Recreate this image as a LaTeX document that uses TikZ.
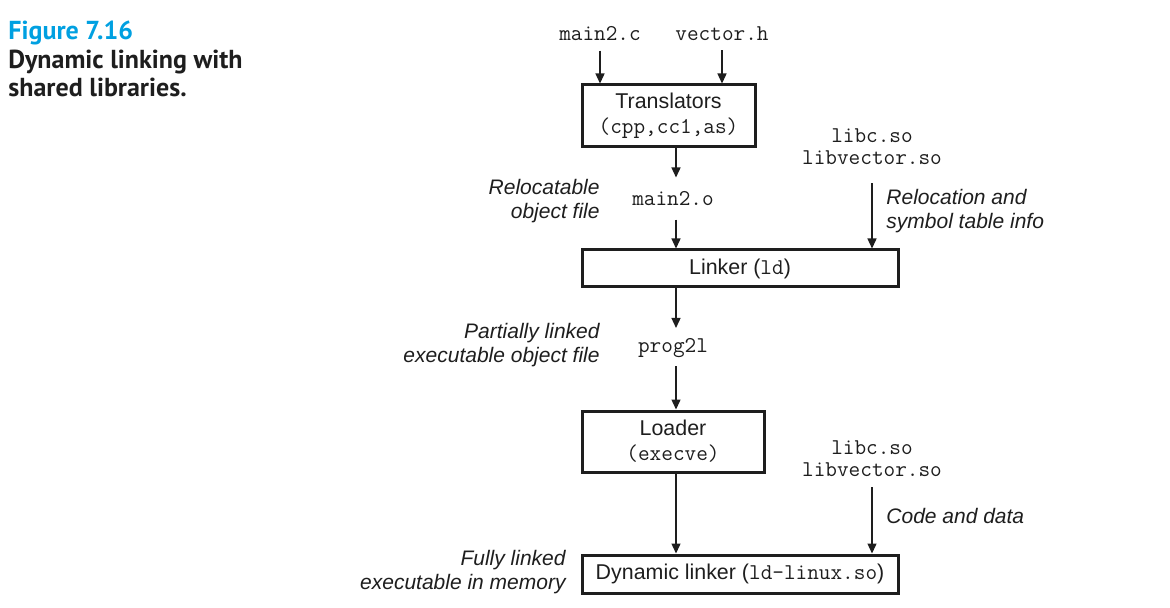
\documentclass[tikz,border=0pt]{standalone}
\usepackage{fontspec}
\setmainfont{Liberation Sans}
\newfontfamily\titlefont{PT Sans}
\usetikzlibrary{arrows.meta}
\definecolor{figcyan}{RGB}{0,160,225}
\definecolor{ink}{RGB}{30,30,30}
\newcommand{\cmono}[1]{{\fontsize{11.3}{11}\ttfamily #1}}
\tikzset{
  box/.style={draw=ink, line width=1.5pt, inner sep=0pt, align=center, font=\fontsize{10.7}{12.5}\selectfont, text=ink},
  mono/.style={inner sep=0pt, align=center, font=\fontsize{11.3}{11}\ttfamily, text=ink},
  note/.style={inner sep=0pt, font=\fontsize{10.5}{12}\selectfont\itshape, text=ink},
  captext/.style={anchor=base west, inner sep=0pt, font=\titlefont\bfseries\fontsize{13}{14}\selectfont, text=ink},
  arr/.style={draw=ink, line width=0.7pt, -{Triangle[length=5pt,width=4.5pt]}},
}
\begin{document}
\begin{tikzpicture}[x=0.5pt,y=-0.5pt]
\useasboundingbox (0,0) rectangle (1170,608);
% caption
\node[captext, text=figcyan] (cap1) at (8,40) {Figure 7.16};
\node[captext] (cap2) at (8,68.5) {Dynamic linking with};
\node[captext] (cap3) at (8,97) {shared libraries.};
% columns
\coordinate (cA) at (676,0);
\coordinate (cB) at (872,0);
% inputs
\node[mono] (main2c) at (600,34) {main2.c};
\node[mono] (vectorh) at (722,34) {vector.h};
% translators
\node[box, minimum width=86.5pt, minimum height=31pt] (trans) at (668.5,116)
  {Translators\\\cmono{(cpp,cc1,as)}};
\node[mono] (main2o) at (673,199) {main2.o};
\node[note, anchor=east, align=right] (relobj) at (600,201) {Relocatable\\object file};
\node[mono] (libs1) at (872,147) {libc.so\\libvector.so};
\node[note, anchor=west, align=left] (relinfo) at (886,211) {Relocation and\\symbol table info};
% linker
\node[box, minimum width=158pt, minimum height=18.5pt] (linker) at (740,268.5) {Linker (\cmono{ld})};
\node[mono] (prog) at (673,348) {prog2l};
\node[note, anchor=east, align=right] (partial) at (600,345) {Partially linked\\executable object file};
% loader
\node[box, minimum width=91pt, minimum height=30.5pt] (loader) at (673,441.5) {Loader\\\cmono{(execve)}};
\node[mono] (libs2) at (872,459) {libc.so\\libvector.so};
\node[note, anchor=west] (code) at (886,516) {Code and data};
% dynamic linker
\node[box, minimum width=158pt, minimum height=19pt] (dyn) at (740,574) {Dynamic linker (\cmono{ld-linux.so})};
\node[note, anchor=east, align=right] (full) at (566,572) {Fully linked\\executable in memory};
% arrows
\draw[arr, shorten <=4.5pt] (main2c.south) -- (main2c.south |- trans.north);
\draw[arr, shorten <=4.5pt] (vectorh.south) -- (vectorh.south |- trans.north);
\draw[arr, shorten >=7pt] (trans.south -| cA) -- (main2o.north -| cA);
\draw[arr, shorten <=6.5pt] (main2o.south -| cA) -- (linker.north -| cA);
\draw[arr, shorten <=9pt] (libs1.south -| cB) -- (linker.north -| cB);
\draw[arr, shorten >=5pt] (linker.south -| cA) -- (prog.north -| cA);
\draw[arr, shorten <=4pt] (prog.south -| cA) -- (loader.north -| cA);
\draw[arr] (loader.south -| cA) -- (dyn.north -| cA);
\draw[arr, shorten <=5pt] (libs2.south -| cB) -- (dyn.north -| cB);
\end{tikzpicture}
\end{document}
